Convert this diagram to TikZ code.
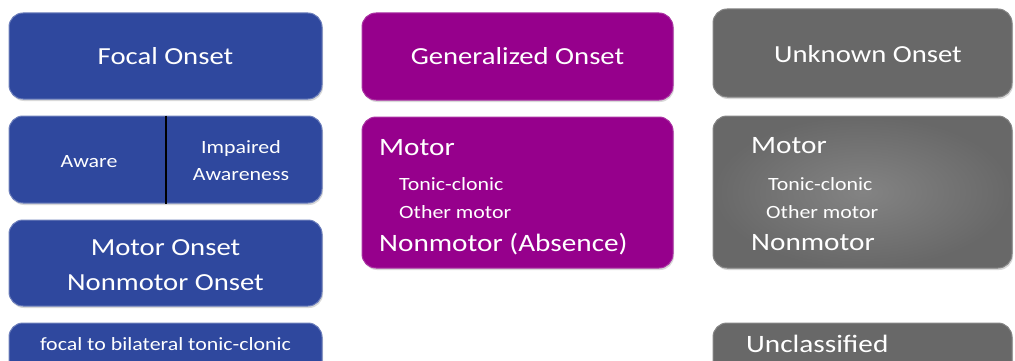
\documentclass[tikz,border=0pt]{standalone}
\usepackage{fontspec}
\setmainfont{Carlito}[FakeStretch=1.17]
\usepackage{tikz}
\usetikzlibrary{positioning, shadows}
\definecolor{cblue}{RGB}{47,72,158}
\definecolor{cpurple}{RGB}{150,0,140}
\definecolor{cgray}{RGB}{104,104,104}
\tikzset{
Box/.style={
	draw, rounded corners=14pt,
	line width=1pt, inner sep=0pt,
	drop shadow={opacity=0.3, shadow xshift=1pt, shadow yshift=-2pt}
},
FocalBox/.style={
	Box,
	fill=cblue, draw=cblue!70!white
},
GeneralBox/.style={
	Box,
	fill=cpurple, draw=cpurple!80!white
},
UnknownBox/.style={
	Box,
	fill=cgray, draw=cgray!80!white
},
Title/.style={
	text=white, anchor=base, inner sep=0pt,
	font=\fontsize{24.5}{28}\selectfont
},
Big/.style={
	text=white, anchor=base west, inner sep=0pt,
	font=\fontsize{25}{29}\selectfont
},
Small/.style={
	text=white, anchor=base west, inner sep=0pt,
	font=\fontsize{18.7}{22}\selectfont
},
Mid/.style={
	Small, anchor=base
}
}

\begin{document}
\begin{tikzpicture}[x=1pt, y=-1pt]
	\clip (0,0) rectangle (1015,361);

	% focal onset column
	\node[FocalBox, minimum width=313pt, minimum height=86pt] (focal) at (165.5,56) {};
	\node[FocalBox, minimum width=313pt, minimum height=87pt] (aware) at (165.5,159.5) {};
	\node[FocalBox, minimum width=313pt, minimum height=86pt] (onset) at (165.5,263) {};
	\node[FocalBox, minimum width=313pt, minimum height=87pt] (bilateral) at (165.5,366.5) {};
	\draw[line width=2pt, black] (aware.north) -- (aware.south);

	\node[Title] (focaltxt) at (165.5,65) {Focal Onset};
	\node[Mid] (awaretxt) at (89,167) {Aware};
	\node[Mid] (impairedtxt) at (241,153) {Impaired};
	\node[Mid] (awarenesstxt) at (241,180) {Awareness};
	\node[Title] (motoronset) at (165.5,255) {Motor Onset};
	\node[Title] (nonmotoronset) at (165.5,290) {Nonmotor Onset};
	\node[Mid] (bilateraltxt) at (165.5,350) {focal to bilateral tonic-clonic};

	% generalized onset column
	\node[GeneralBox, minimum width=311pt, minimum height=87pt] (general) at (517.5,56.5) {};
	\node[GeneralBox, minimum width=311pt, minimum height=151pt] (genmotor) at (517.5,192.5) {};

	\node[Title] (generaltxt) at (517.5,65) {Generalized Onset};
	\node[Big] (genmotortxt) at (379,155) {Motor};
	\node[Small] (gentonic) at (399,190) {Tonic-clonic};
	\node[Small] (genother) at (399,218) {Other motor};
	\node[Big] (gennonmotor) at (379,251) {Nonmotor (Absence)};

	% unknown onset column
	\node[UnknownBox, minimum width=299pt, minimum height=88pt] (unknown) at (862.5,53) {};
	\node[UnknownBox, minimum width=299pt, minimum height=152pt, shading=radial,
		inner color=cgray!82!white, outer color=cgray] (unkmotor) at (862.5,192) {};
	\node[UnknownBox, minimum width=299pt, minimum height=87pt] (unclass) at (862.5,366.5) {};

	\node[Title] (unknowntxt) at (868,63) {Unknown Onset};
	\node[Big] (unkmotortxt) at (751,153) {Motor};
	\node[Small] (unktonic) at (768,190) {Tonic-clonic};
	\node[Small] (unkother) at (766,218) {Other motor};
	\node[Big] (unknonmotor) at (751,250) {Nonmotor};
	\node[Big] (unclasstxt) at (746,352) {Unclassified};
\end{tikzpicture}
\end{document}
